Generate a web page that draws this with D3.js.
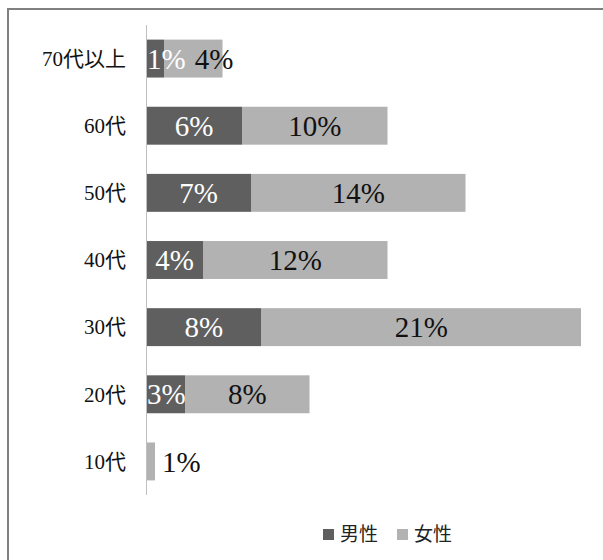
<html lang="ja">

<head>
  <meta charset="utf-8">
  <title>年代別 男女比</title>
  <script type="text/javascript" src="https://d3js.org/d3.v7.min.js"></script>
  <style>
    body { margin: 0; background: #fff; }
  </style>
</head>

<body>
  <svg width="603" height="560"></svg>
  <script>
    // categories top to bottom
    const categories = ["70代以上", "60代", "50代", "40代", "30代", "20代", "10代"];
    const seriesNames = ["男性", "女性"];
    // percentage values
    const maleValues = [1.2, 6.4, 7.0, 3.8, 7.7, 2.6, 0];
    const femaleValues = [3.9, 9.7, 14.3, 12.3, 21.3, 8.3, 0.6];
    const colors = ["#5f5f5f", "#b2b2b2"];

    const svg = d3.select("svg");
    const serif = "Liberation Serif, Noto Sans CJK JP, serif";

    // chart frame
    svg.append("rect")
      .attr("x", 8)
      .attr("y", 9)
      .attr("width", 700)
      .attr("height", 700)
      .attr("fill", "none")
      .attr("stroke", "#808080")
      .attr("stroke-width", 2);

    const x = d3.scaleLinear()
      .domain([0, 29])
      .range([146, 581]);

    const y = d3.scaleBand()
      .domain(categories)
      .range([25, 495])
      .paddingInner(0.435)
      .paddingOuter(0.2175);

    const rows = categories.map((c, i) => ({ cat: c, male: maleValues[i], female: femaleValues[i] }));
    const stacked = d3.stack().keys(["male", "female"])(rows);

    const groups = svg.selectAll("g.series")
      .data(stacked)
      .enter()
      .append("g")
      .attr("class", "series")
      .attr("fill", (d, i) => colors[i]);

    groups.selectAll("rect")
      .data(d => d)
      .enter()
      .append("rect")
      .attr("x", d => x(d[0]))
      .attr("y", d => y(d.data.cat))
      .attr("width", d => x(d[1]) - x(d[0]))
      .attr("height", y.bandwidth());

    // vertical axis line
    svg.append("line")
      .attr("x1", x(0) + 0.5)
      .attr("x2", x(0) + 0.5)
      .attr("y1", 25)
      .attr("y2", 495)
      .attr("stroke", "#bfbfbf")
      .attr("stroke-width", 1);

    // category labels
    svg.selectAll("text.cat")
      .data(categories)
      .enter()
      .append("text")
      .attr("class", "cat")
      .attr("x", 126)
      .attr("y", d => y(d) + y.bandwidth() / 2)
      .attr("dy", "0.35em")
      .attr("text-anchor", "end")
      .attr("font-family", serif)
      .attr("font-size", 21)
      .attr("fill", "#111")
      .text(d => d);

    // data labels, shifted right when they would overlap
    const fmt = d3.format(".0f");
    rows.forEach(r => {
      let prevRight = x(0) + 1;
      stacked.forEach((s, si) => {
        const seg = s.find(d => d.data.cat === r.cat);
        const v = seg[1] - seg[0];
        if (v <= 0) return;
        const x0 = x(seg[0]), x1 = x(seg[1]);
        const t = svg.append("text")
          .attr("y", y(r.cat) + y.bandwidth() / 2)
          .attr("dy", "0.35em")
          .attr("font-family", "Liberation Serif, serif")
          .attr("font-size", 29)
          .attr("fill", si === 0 ? "#fff" : "#111")
          .text(fmt(v) + "%");
        const w = t.node().getComputedTextLength();
        let left;
        if (x1 - x0 < 12) left = x1 + 7;
        else left = Math.max((x0 + x1) / 2 - w / 2, prevRight);
        t.attr("x", left);
        prevRight = left + w + 9;
      });
    });

    // legend
    const legendX = [323, 397];
    const legend = svg.selectAll("g.legend")
      .data(seriesNames)
      .enter()
      .append("g")
      .attr("class", "legend")
      .attr("transform", (d, i) => `translate(${legendX[i]},529)`);

    legend.append("rect")
      .attr("width", 11)
      .attr("height", 11)
      .attr("fill", (d, i) => colors[i]);

    legend.append("text")
      .attr("x", 17)
      .attr("y", 5.5)
      .attr("dy", "0.36em")
      .attr("font-family", "Noto Sans CJK JP, sans-serif")
      .attr("font-size", 19)
      .attr("fill", "#222")
      .text(d => d);
  </script>
</body>

</html>
